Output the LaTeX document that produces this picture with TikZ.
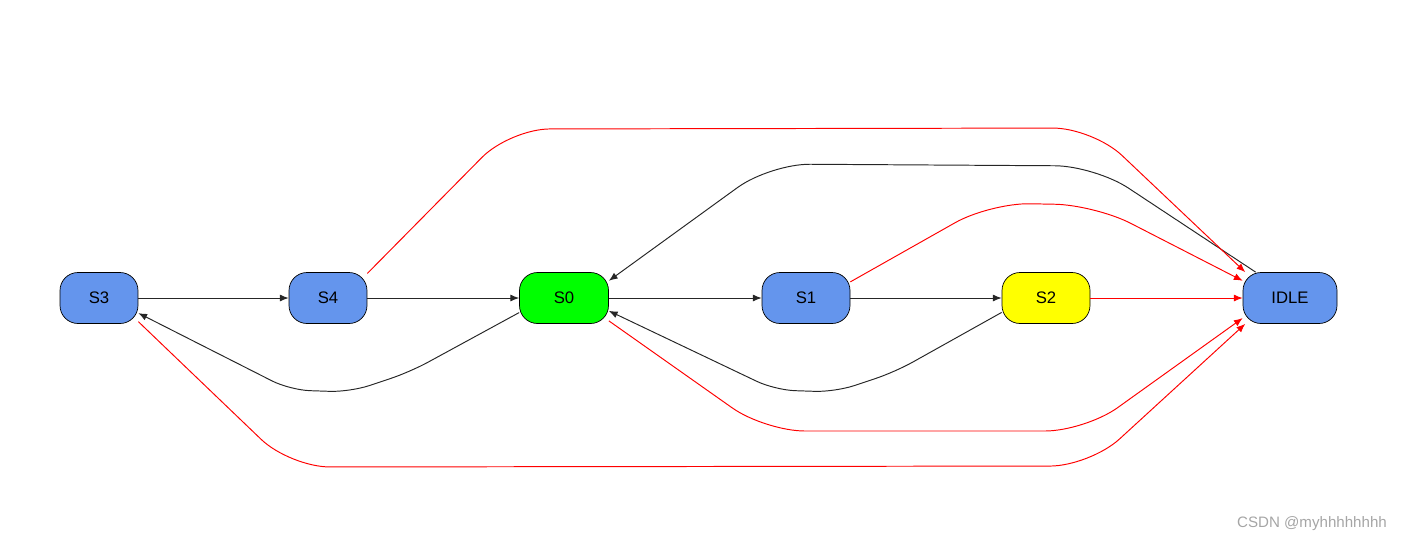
\documentclass[tikz,border=0pt]{standalone}
\usepackage{fontspec}
\setmainfont{Liberation Sans}
\usetikzlibrary{arrows.meta}
\definecolor{fsmblue}{RGB}{100, 149, 237}
\definecolor{fsmgreen}{RGB}{0, 255, 0}
\definecolor{fsmyellow}{RGB}{255, 255, 0}
\definecolor{fsmred}{RGB}{255, 0, 0}
\definecolor{markgray}{RGB}{165, 165, 165}

\begin{document}
\begin{tikzpicture}[
    x=0.02cm, y=-0.02cm,
    st/.style={draw=black, thin, rounded corners=0.36cm, fill=fsmblue,
      minimum width=1.56cm, minimum height=1.02cm, inner sep=0pt,
      font=\fontsize{9.5}{11}\selectfont},
    arr/.style={-{Latex[length=5pt, width=4pt]}, line width=0.55pt, black!85},
    rarr/.style={arr, fsmred, rounded corners=0.8cm}
  ]
    \useasboundingbox (0,0) rectangle (1402,542);

    % states
    \node[st] (S3) at (99,298) {S3};
    \node[st] (S4) at (328,298) {S4};
    \node[st, fill=fsmgreen, minimum width=1.78cm] (S0) at (564,298) {S0};
    \node[st, minimum width=1.76cm] (S1) at (806,298) {S1};
    \node[st, fill=fsmyellow, minimum width=1.76cm] (S2) at (1046,298) {S2};
    \node[st, minimum width=1.88cm] (IDLE) at (1290,298) {IDLE};

    % straight transitions
    \draw[arr] (S3) -- (S4);
    \draw[arr] (S4) -- (S0);
    \draw[arr] (S0) -- (S1);
    \draw[arr] (S1) -- (S2);
    \draw[arr, fsmred] (S2) -- (IDLE);

    % back transitions
    \draw[arr, rounded corners=0.4cm] (S0.-162) -- (410,372) -- (350,392)
      -- (290,390) -- (S3.-21);
    \draw[arr, rounded corners=0.4cm] (S2.-162) -- (895,372) -- (835,392)
      -- (775,390) -- (S0.-16);
    \draw[arr, rounded corners=0.8cm] (IDLE.143) -- (1095,166) -- (770,164)
      -- (S0.21);

    % transitions into IDLE
    \draw[rarr] (S4.32) -- (510,129) -- (1093,128) -- (IDLE.150);
    \draw[rarr] (S1.20) -- (990,203) -- (1095,205) -- (IDLE.160);
    \draw[rarr] (S0.-27) -- (765,431) -- (1085,431) -- (IDLE.-157);
    \draw[rarr] (S3.-31) -- (290,467) -- (1090,466) -- (IDLE.-150);

    \node[font=\fontsize{8.6}{10}\selectfont, text=markgray] (mark) at (1312,524) {CSDN @myhhhhhhhh};
\end{tikzpicture}
\end{document}
